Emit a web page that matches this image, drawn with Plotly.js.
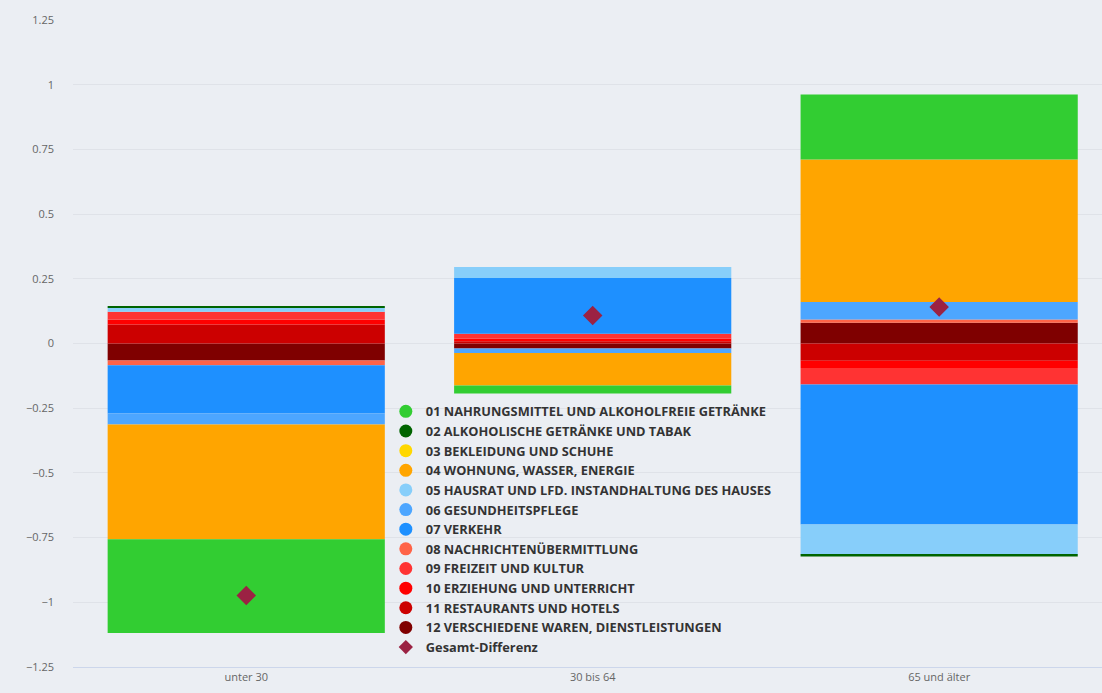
<!DOCTYPE html>
<html>
<head>
<meta charset="utf-8">
<script src="https://cdn.plot.ly/plotly-3.0.1.min.js"></script>
<style>html,body{margin:0;padding:0;background:#ebeef3;}#chart{width:1102px;height:693px;}</style>
</head>
<body>
<div id="chart"></div>
<script>
const categories = ["unter 30", "30 bis 64", "65 und älter"];
const seriesNames = [
  "01 NAHRUNGSMITTEL UND ALKOHOLFREIE GETRÄNKE",
  "02 ALKOHOLISCHE GETRÄNKE UND TABAK",
  "03 BEKLEIDUNG UND SCHUHE",
  "04 WOHNUNG, WASSER, ENERGIE",
  "05 HAUSRAT UND LFD. INSTANDHALTUNG DES HAUSES",
  "06 GESUNDHEITSPFLEGE",
  "07 VERKEHR",
  "08 NACHRICHTENÜBERMITTLUNG",
  "09 FREIZEIT UND KULTUR",
  "10 ERZIEHUNG UND UNTERRICHT",
  "11 RESTAURANTS UND HOTELS",
  "12 VERSCHIEDENE WAREN, DIENSTLEISTUNGEN"
];
const seriesColors = ["#32cd32","#006400","#ffd700","#ffa500","#87cefa","#4da6ff","#1e90ff","#ff6347","#ff3333","#ff0000","#cc0000","#7f0000"];
const s01 = [-0.362, -0.031, 0.2515];
const s02 = [0.004, 0.0, -0.0077];
const s03 = [0.0, 0.0, 0.0];
const s04 = [-0.443, -0.125, 0.550];
const s05 = [0.0166, 0.0425, -0.116];
const s06 = [-0.0425, -0.018, 0.068];
const s07 = [-0.187, 0.216, -0.541];
const s08 = [-0.018, 0.0, 0.0128];
const s09 = [0.0298, 0.018, -0.063];
const s10 = [0.0193, 0.0104, -0.028];
const s11 = [0.0734, 0.009, -0.067];
const s12 = [-0.0657, -0.019, 0.080];
const totalName = "Gesamt-Differenz";
const totalDiff = [-0.974, 0.108, 0.141];

const allSeries = [s01,s02,s03,s04,s05,s06,s07,s08,s09,s10,s11,s12];
const traces = [];
// Stack order: last series closest to zero
for (let i = allSeries.length - 1; i >= 0; i--) {
  traces.push({
    type: "bar", x: categories, y: allSeries[i], name: seriesNames[i],
    marker: {color: seriesColors[i], line: {width: 0}},
    width: 0.8, showlegend: false, hoverinfo: "name+y"
  });
}
// Legend entries with circle symbols
for (let i = 0; i < allSeries.length; i++) {
  traces.push({
    type: "scatter", mode: "markers", x: [null], y: [null], name: seriesNames[i],
    marker: {color: seriesColors[i], symbol: "circle", size: 13},
    legendrank: i + 1, hoverinfo: "skip"
  });
}
traces.push({
  type: "scatter", mode: "markers", x: categories, y: totalDiff, name: totalName,
  marker: {color: "#9b2243", symbol: "diamond", size: 15},
  showlegend: false
});
traces.push({
  type: "scatter", mode: "markers", x: [null], y: [null], name: totalName,
  marker: {color: "#9b2243", symbol: "diamond", size: 11},
  legendrank: 20, hoverinfo: "skip"
});

const layout = {
  width: 1102, height: 693,
  paper_bgcolor: "#ebeef3", plot_bgcolor: "#ebeef3",
  margin: {l: 73, r: 0, t: 20, b: 26},
  barmode: "relative", bargap: 0.2,
  font: {family: "Open Sans, DejaVu Sans, sans-serif", color: "#666666", size: 11},
  xaxis: {
    type: "category", range: [-0.5, 2.47],
    showgrid: false, zeroline: false,
    showline: true, linecolor: "#ccd6eb", linewidth: 1,
    ticks: "", tickfont: {size: 11, color: "#666666"}
  },
  yaxis: {
    range: [-1.25, 1.25], tickvals: [-1.25,-1,-0.75,-0.5,-0.25,0,0.25,0.5,0.75,1,1.25],
    ticktext: ["−1.25","−1","−0.75","−0.5","−0.25","0","0.25","0.5","0.75","1","1.25"],
    showgrid: true, gridcolor: "#dfe2e8", gridwidth: 1,
    zeroline: false, ticks: "", ticklabelstandoff: 18,
    tickfont: {size: 11, color: "#666666"}
  },
  showlegend: true,
  legend: {
    x: 0.304, y: 0.418, xanchor: "left", yanchor: "top", xref: "paper", yref: "paper",
    bgcolor: "rgba(0,0,0,0)", traceorder: "normal",
    font: {size: 12.8, color: "#333333", family: "Open Sans, DejaVu Sans, sans-serif", weight: 700},
    itemwidth: 30, tracegroupgap: 0
  },
  hovermode: "closest"
};
Plotly.newPlot("chart", traces, layout, {displayModeBar: false});
</script>
</body>
</html>
